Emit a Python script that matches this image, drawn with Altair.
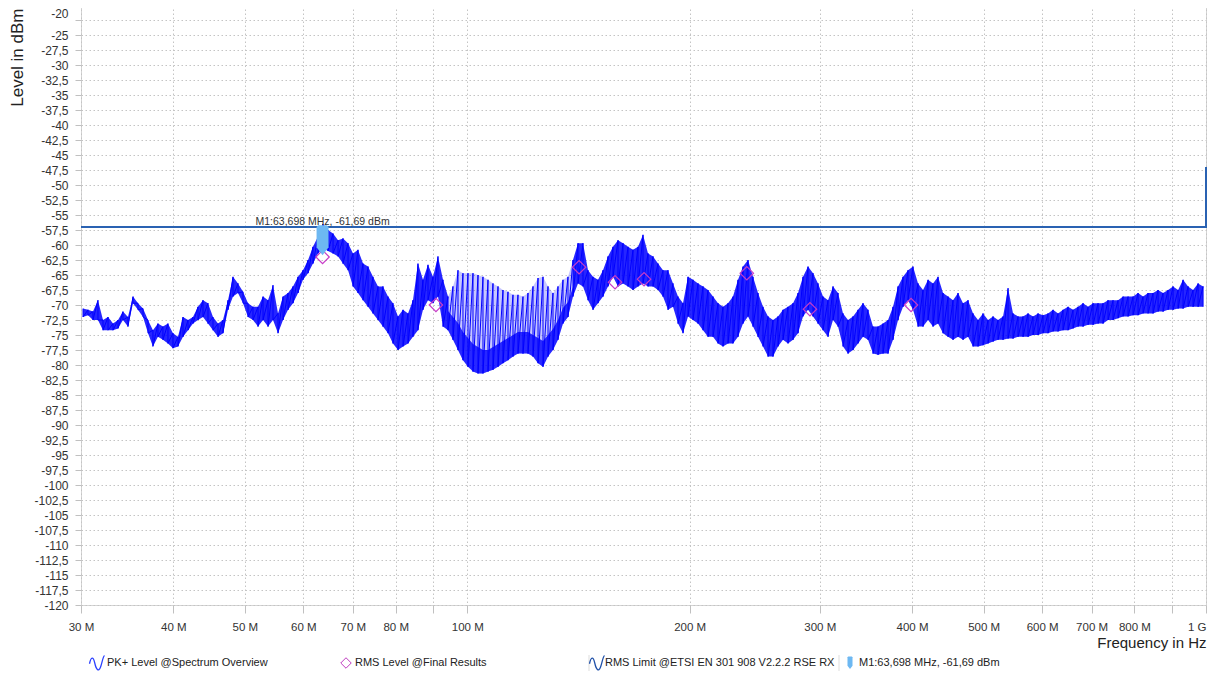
import altair as alt
import pandas as pd

# ---------------- data ----------------
pk_freq_mhz = [
    30.19, 30.66, 31.14, 31.63, 32.13, 32.64, 33.15, 33.67, 34.19, 34.73,
    35.28, 35.83, 36.40, 36.97, 37.54, 38.13, 38.73, 39.34, 39.96, 40.59,
    41.23, 41.88, 42.53, 43.20, 43.88, 44.57, 45.27, 45.98, 46.70, 47.44,
    48.18, 48.94, 49.71, 50.49, 51.28, 52.09, 52.91, 53.74, 54.58, 55.44,
    56.31, 57.20, 58.09, 59.01, 59.93, 60.88, 61.82, 62.80, 63.79, 64.79,
    65.81, 66.85, 67.89, 68.96, 70.04, 71.14, 72.26, 73.40, 74.54, 75.72,
    76.90, 78.11, 79.33, 80.58, 81.85, 83.14, 84.43, 85.76, 87.11, 88.48,
    89.87, 91.28, 92.72, 94.18, 95.64, 97.15, 98.67, 100.23, 101.80, 103.41,
    105.02, 106.68, 108.35, 110.06, 111.78, 113.54, 115.32, 117.13, 118.97, 120.84,
    122.74, 124.68, 126.63, 128.62, 130.63, 132.69, 134.77, 136.89, 139.03, 141.22,
    143.44, 145.70, 147.98, 150.31, 152.67, 155.07, 157.50, 159.98, 162.49, 165.05,
    167.63, 170.27, 172.94, 175.67, 178.42, 181.23, 184.06, 186.96, 189.89, 192.88,
    195.91, 198.99, 202.11, 205.29, 208.50, 211.79, 215.11, 218.50, 221.92, 225.41,
    228.94, 232.55, 236.20, 239.92, 243.67, 247.51, 251.39, 255.35, 259.35, 263.43,
    267.56, 271.77, 276.03, 280.38, 284.77, 289.25, 293.79, 298.42, 303.09, 307.87,
    312.69, 317.62, 322.59, 327.67, 332.81, 338.05, 343.34, 348.75, 354.21, 359.79,
    365.43, 371.19, 377.00, 382.94, 388.94, 395.06, 401.25, 407.57, 413.96, 420.48,
    427.06, 433.79, 440.59, 447.53, 454.54, 461.70, 468.93, 476.32, 483.78, 491.40,
    499.10, 506.96, 514.91, 523.01, 531.21, 539.58, 548.02, 556.66, 565.38, 574.28,
    583.28, 592.47, 601.75, 611.23, 620.81, 630.58, 640.46, 650.55, 660.74, 671.15,
    681.66, 692.40, 703.25, 714.32, 725.52, 736.95, 748.49, 760.28, 772.19, 784.35,
    796.64, 809.19, 821.86, 834.81, 847.89, 861.24, 874.73, 888.51, 902.44, 916.65,
    931.01, 945.68, 960.49, 975.62, 990.90,
]

pk_hi_dbm = [
    -70.6, -70.8, -71.1, -69.2, -72.5, -72.0, -73.1, -72.5, -71.1, -72.0,
    -68.6, -69.7, -70.6, -72.5, -74.2, -73.1, -73.6, -73.1, -74.7, -75.3,
    -72.0, -72.5, -72.0, -70.3, -69.2, -69.7, -72.0, -73.1, -72.5, -69.2,
    -65.3, -66.4, -67.8, -69.7, -70.3, -70.3, -68.6, -69.2, -66.7, -71.4,
    -68.6, -68.0, -66.9, -65.3, -64.2, -62.5, -60.3, -58.6, -56.5, -57.5,
    -58.1, -59.2, -58.9, -59.7, -61.4, -60.8, -63.1, -63.6, -65.3, -66.9,
    -66.9, -68.6, -69.7, -71.9, -70.8, -71.4, -69.2, -63.1, -65.8, -63.3,
    -65.3, -61.9, -65.8, -68.6, -66.9, -64.2, -64.7, -64.7, -64.7, -65.0,
    -65.3, -65.8, -66.4, -66.9, -67.5, -67.8, -68.3, -68.3, -68.6, -68.0,
    -66.9, -65.5, -65.3, -66.9, -68.0, -66.9, -65.8, -65.3, -62.5, -59.7,
    -59.7, -64.2, -65.3, -65.8, -64.2, -61.9, -60.3, -59.2, -59.7, -60.3,
    -60.8, -60.3, -58.3, -61.4, -61.9, -63.1, -64.2, -64.2, -66.4, -68.6,
    -69.7, -65.3, -65.8, -66.4, -66.9, -67.5, -68.6, -69.7, -70.3, -69.7,
    -68.6, -65.8, -63.6, -62.5, -65.3, -68.0, -70.3, -71.9, -72.5, -71.9,
    -70.8, -70.3, -69.7, -68.0, -65.3, -63.6, -64.7, -66.4, -68.6, -69.2,
    -66.9, -68.0, -71.4, -72.5, -71.9, -70.8, -69.7, -70.8, -73.6, -73.6,
    -73.1, -72.5, -70.3, -66.9, -65.3, -64.2, -63.6, -66.4, -67.5, -65.8,
    -66.4, -65.3, -68.0, -68.6, -69.2, -68.0, -69.7, -69.2, -71.4, -72.5,
    -71.4, -72.5, -71.9, -72.5, -71.9, -67.2, -71.4, -71.9, -71.9, -71.4,
    -71.9, -71.4, -71.7, -71.4, -70.8, -71.4, -70.8, -70.3, -70.8, -70.3,
    -69.7, -70.3, -69.7, -69.7, -69.7, -69.2, -69.2, -69.2, -68.6, -68.6,
    -68.6, -68.0, -68.6, -68.0, -68.0, -67.5, -68.0, -67.5, -66.9, -67.5,
    -65.8, -66.9, -67.5, -66.4, -66.9,
]

pk_lo_dbm = [
    -72.0, -71.7, -72.5, -72.5, -74.2, -74.2, -74.2, -73.9, -72.5, -73.6,
    -69.7, -70.8, -72.0, -74.7, -76.9, -75.3, -75.8, -76.4, -77.2, -76.9,
    -75.3, -74.2, -73.1, -72.5, -72.0, -73.1, -74.2, -75.3, -74.7, -70.8,
    -68.6, -68.0, -69.7, -72.0, -72.5, -73.6, -72.5, -73.6, -72.5, -74.7,
    -72.5, -70.8, -69.7, -68.0, -65.8, -64.7, -63.1, -61.4, -60.5, -61.0,
    -61.4, -61.9, -63.1, -64.2, -66.9, -68.0, -69.2, -70.3, -71.4, -72.5,
    -73.6, -74.7, -76.4, -77.5, -76.9, -76.4, -75.3, -74.2, -70.8, -69.2,
    -69.7, -68.6, -73.6, -74.2, -75.8, -77.5, -79.2, -80.3, -81.1, -81.4,
    -81.4, -81.1, -80.8, -80.3, -79.7, -79.2, -78.6, -78.1, -78.1, -78.1,
    -78.6, -79.7, -80.3, -78.6, -77.5, -75.8, -73.1, -72.0, -68.6, -66.4,
    -66.9, -69.2, -70.8, -69.7, -68.6, -66.9, -65.3, -66.9, -66.4, -66.9,
    -67.5, -66.9, -66.4, -66.9, -66.9, -67.5, -68.6, -70.8, -70.3, -73.1,
    -74.7, -71.9, -72.5, -73.1, -74.2, -75.3, -75.3, -76.4, -76.9, -76.4,
    -76.4, -75.3, -73.1, -71.9, -73.6, -75.3, -76.9, -78.6, -78.6, -76.9,
    -75.8, -76.4, -75.8, -74.7, -71.9, -70.8, -71.9, -73.1, -74.2, -75.3,
    -72.5, -73.6, -76.9, -78.1, -77.5, -76.4, -75.3, -75.8, -78.1, -78.3,
    -78.1, -78.1, -75.8, -72.5, -70.3, -69.2, -70.8, -73.6, -73.6, -72.5,
    -73.6, -73.1, -74.7, -75.3, -75.8, -75.3, -75.8, -75.3, -76.9, -76.9,
    -76.7, -76.4, -76.1, -75.8, -75.8, -75.6, -75.6, -75.3, -75.3, -75.3,
    -75.0, -75.0, -74.7, -74.7, -74.4, -74.4, -74.2, -74.2, -73.9, -73.6,
    -73.6, -73.3, -73.3, -73.1, -73.1, -72.5, -72.5, -72.2, -71.9, -71.9,
    -71.7, -71.7, -71.4, -71.4, -71.4, -71.1, -71.1, -70.8, -70.8, -70.6,
    -70.6, -70.3, -70.3, -70.3, -70.3,
]

# top of the dense lower body inside the comb span (94.18 .. 139.03 MHz)
comb_core_top_dbm = [
    -71.0, -72.0, -73.0, -74.5, -75.5, -76.5, -77.0, -77.5, -77.5, -77.0,
    -76.5, -76.0, -75.5, -75.0, -74.5, -74.5, -74.5, -75.0, -75.5, -76.0,
    -75.0, -74.0, -72.5, -70.5, -69.5, -67.0,
]

rms_freq_mhz = [63.7, 90.7, 141.7, 158.5, 173.5, 239.0, 291.0, 398.8]
rms_level_dbm = [-62.0, -70.0, -63.7, -66.2, -65.7, -64.7, -70.7, -70.0]

limit_freq_mhz = [30, 1000, 1000]
limit_level_dbm = [-57, -57, -47]

marker_freq_mhz = [63.698]
marker_level_dbm = [-61.69]
marker_label = ["M1:63,698 MHz, -61,69 dBm"]

x_tick_mhz = [30, 40, 50, 60, 70, 80, 90, 100, 200, 300, 400, 500, 600, 700, 800, 900, 1000]
y_tick_dbm = [-20, -22.5, -25, -27.5, -30, -32.5, -35, -37.5, -40, -42.5, -45, -47.5,
              -50, -52.5, -55, -57.5, -60, -62.5, -65, -67.5, -70, -72.5, -75, -77.5,
              -80, -82.5, -85, -87.5, -90, -92.5, -95, -97.5, -100, -102.5, -105,
              -107.5, -110, -112.5, -115, -117.5, -120]

legend_labels = ["PK+ Level @Spectrum Overview", "RMS Level @Final Results",
                 "RMS Limit @ETSI EN 301 908 V2.2.2 RSE RX", "M1:63,698 MHz, -61,69 dBm"]

# frequency span (MHz) where the trace shows a sparse comb of spikes
comb_span_mhz = [94.18, 139.03]

# ---------------- tables ----------------
trace_rows = []
for i, (f, h, l) in enumerate(zip(pk_freq_mhz, pk_hi_dbm, pk_lo_dbm)):
    trace_rows.append({"f": f, "level": h, "order": 2 * i})
    trace_rows.append({"f": f, "level": l, "order": 2 * i + 1})
trace_df = pd.DataFrame(trace_rows)
band_df = pd.DataFrame({"f": pk_freq_mhz, "hi": pk_hi_dbm, "lo": pk_lo_dbm})
band_low = band_df[band_df.f <= comb_span_mhz[0]]
band_comb = band_df[(band_df.f >= comb_span_mhz[0]) & (band_df.f <= comb_span_mhz[1])].copy()
band_high = band_df[band_df.f >= comb_span_mhz[1]]
core_df = band_comb.copy()
core_df["hi"] = comb_core_top_dbm[:len(core_df)]
rms_df = pd.DataFrame({"f": rms_freq_mhz, "level": rms_level_dbm})
limit_df = pd.DataFrame({"f": limit_freq_mhz, "level": limit_level_dbm, "order": [0, 1, 2]})
marker_df = pd.DataFrame({"f": marker_freq_mhz, "level": marker_level_dbm, "label": marker_label})
dummy = pd.DataFrame({"k": [0]})

FONT = "Liberation Sans"

x_scale = alt.Scale(type="log", domain=[30, 1000], nice=False)
y_scale = alt.Scale(domain=[-120, -20], nice=False, zero=False)

x_axis = alt.Axis(
    values=x_tick_mhz,
    labelExpr="datum.value >= 1000 ? '1 G' : (datum.value == 90 || datum.value == 900) ? '' : datum.value + ' M'",
    labelAlign={"expr": "datum.value >= 1000 ? 'right' : 'center'"},
    labelFlush=False, labelOverlap=False,
    labelFontSize=11.5, labelColor="#333333", labelPadding=8, labelFont=FONT,
    tickSize=8, tickColor="#c0c0c0", domain=False,
    grid=True, gridDash=[1.5, 2.5], gridColor="#c4c4c4",
    title="Frequency in Hz", titleFontSize=15, titleFontWeight="normal", titleFont=FONT,
    titleColor="#222222", titleX=1125, titleY=37, titleAlign="right", titleBaseline="middle",
)
y_axis = alt.Axis(
    values=y_tick_dbm,
    labelExpr="datum.value == -22.5 ? '' : replace(toString(datum.value), '.', ',')",
    labelBaseline={"expr": "datum.value == -20 ? 'top' : 'middle'"},
    labelOffset={"expr": "datum.value == -20 ? 3 : 0"},
    labelFlush=False, labelOverlap=False,
    labelFontSize=12, labelColor="#333333", labelPadding=7, labelFont=FONT,
    tickSize=6, tickColor="#c0c0c0", domain=False,
    grid=True, gridDash=[1.5, 2.5], gridColor="#c4c4c4",
    title="Level in dBm", titleFontSize=17, titleFontWeight="normal", titleFont=FONT,
    titleColor="#222222", titleX=-64, titleY=3, titleAngle=-90, titleAlign="right",
    titleBaseline="middle",
)

X = alt.X("f:Q", scale=x_scale, axis=x_axis)
Y = alt.Y("level:Q", scale=y_scale, axis=y_axis)
YB = alt.Y("lo:Q", scale=y_scale, axis=y_axis)


def band_chart(df, op):
    return alt.Chart(df).mark_area(color="#0000ff", opacity=op).encode(x=X, y=YB, y2="hi:Q")


bands = [band_chart(band_low, 0.85), band_chart(band_comb, 0.22),
         band_chart(core_df, 0.8), band_chart(band_high, 0.85)]

trace = alt.Chart(trace_df).mark_line(color="#0000ff", strokeWidth=1).encode(
    x=X, y=Y, order="order:Q"
)
limit = alt.Chart(limit_df).mark_line(color="#2a62b2", strokeWidth=2).encode(
    x=X, y=Y, order="order:Q"
)
rms = alt.Chart(rms_df).mark_point(shape="diamond", filled=False, size=180,
                                   color="#c83cc8", strokeWidth=1.2, opacity=1).encode(x=X, y=Y)

PIN = "M0,0 L-1,-1.3 L-1,-4.7 L-0.7,-5 L0.7,-5 L1,-4.7 L1,-1.3 Z"
pin = alt.Chart(marker_df).mark_point(shape=PIN, filled=True, size=144,
                                      color="#6db8f2", opacity=1, strokeWidth=0).encode(x=X, y=Y)
pin_text = alt.Chart(marker_df).mark_text(font=FONT, fontSize=10.5, color="#333333",
                                          align="center", baseline="bottom", dy=-28).encode(
    x=X, y=Y, text="label:N"
)

# ---------------- legend row ----------------
WAVE = "M-1,0.1 C-0.8,-0.9 -0.5,-0.9 -0.3,0 C-0.1,0.9 0.2,1.2 0.45,0.6 C0.65,0.1 0.8,-0.9 1,-1"
LY = 658


def leg_text(txt, x):
    return alt.Chart(dummy).mark_text(text=txt, font=FONT, fontSize=11, color="#222222",
                                      align="left", baseline="middle").encode(
        x=alt.value(x), y=alt.value(LY))


def leg_sym(shape, x, color, size, filled=False, y=LY, sw=1.3):
    return alt.Chart(dummy).mark_point(shape=shape, filled=filled, size=size, color=color,
                                       strokeWidth=sw, opacity=1).encode(
        x=alt.value(x), y=alt.value(y))


def leg_sep(x):
    return alt.Chart(dummy).mark_rule(color="#dddddd", strokeWidth=1).encode(
        x=alt.value(x), y=alt.value(LY - 8), y2=alt.value(LY + 8))


legend_layers = [
    leg_sym(WAVE, 16, "#2a40ff", 225),
    leg_text(legend_labels[0], 26),
    leg_sym("diamond", 265, "#c03cc0", 110, sw=1),
    leg_text(legend_labels[1], 274),
    leg_sep(508),
    leg_sym(WAVE, 516, "#1f50a8", 225),
    leg_text(legend_labels[2], 524),
    leg_sep(758),
    leg_sym(PIN, 769, "#6db8f2", 25, filled=True, y=LY + 6, sw=0),
    leg_text(legend_labels[3], 778),
]

chart = alt.layer(*bands, trace, limit, rms, pin, pin_text, *legend_layers).properties(
    width=1125, height=600,
    padding={"left": 73, "top": -3, "right": 2, "bottom": 68},
    autosize=alt.AutoSizeParams(type="none"),
    background="white",
).configure_view(stroke="#d4d4d4", strokeWidth=1)

chart.save("out.html", embed_options={"renderer": "svg", "actions": False})
